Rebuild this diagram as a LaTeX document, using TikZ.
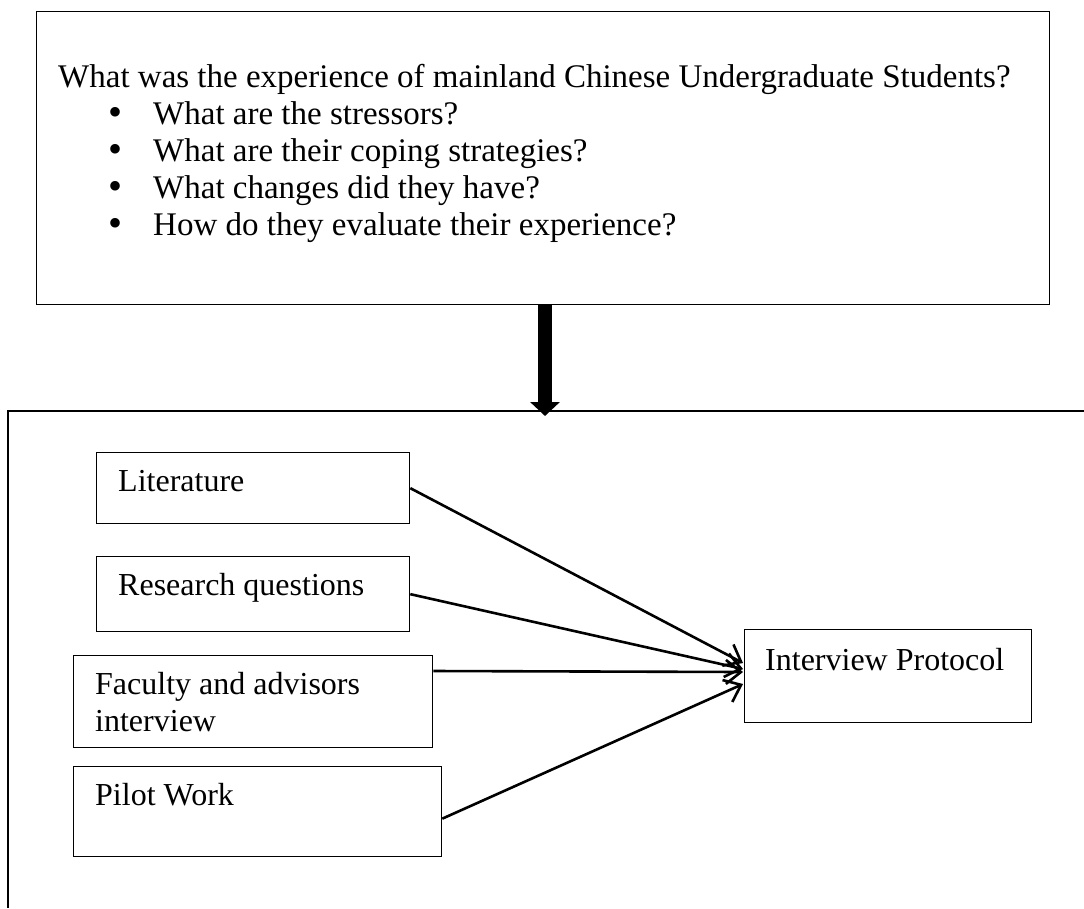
\documentclass[tikz,border=0pt]{standalone}
\usepackage{fontspec}
\setmainfont{Liberation Serif}
\usetikzlibrary{arrows.meta}
\begin{document}
\begin{tikzpicture}[x=1pt,y=-1pt,
  box/.style={draw, line width=1.3pt, inner sep=0pt, anchor=north west},
  txt/.style={anchor=base west, inner sep=0pt, font=\fontsize{32}{37}\selectfont},
  ttxt/.style={txt, font=\fontsize{33}{37}\selectfont},
  bul/.style={txt, font=\fontsize{40}{37}\selectfont},
  arr/.style={line width=2.6pt, -{Straight Barb[length=15pt,width=24pt,line width=2.6pt]}},
  bigarr/.style={line width=14pt, -{Triangle[length=14pt,width=29pt]}},
  ]
\useasboundingbox (0,0) rectangle (1084,908);
% top box
\node[box, minimum width=1013pt, minimum height=293pt] (q) at (36,11) {};
\node[ttxt] (q0) at (58,87) {What was the experience of mainland Chinese Undergraduate Students?};
\node[bul] (b1) at (108,125) {•};
\node[ttxt] (q1) at (153,124) {What are the stressors?};
\node[bul] (b2) at (108,162) {•};
\node[ttxt] (q2) at (153,161) {What are their coping strategies?};
\node[bul] (b3) at (108,199) {•};
\node[ttxt] (q3) at (153,198) {What changes did they have?};
\node[bul] (b4) at (108,236) {•};
\node[ttxt] (q4) at (153,235) {How do they evaluate their experience?};
% big open frame
\coordinate (fr1) at (1084,411);
\coordinate (fr2) at (8,411);
\coordinate (fr3) at (8,908);
\draw[line width=1.3pt] (fr1) -- (fr2) -- (fr3);
% thick arrow
\coordinate (tip) at (545,416);
\draw[bigarr] (q.south -| tip) -- (tip);
% left boxes
\node[box, minimum width=313pt, minimum height=71pt] (lit) at (96,452) {};
\node[txt] (litt) at (118,491) {Literature};
\node[box, minimum width=313pt, minimum height=75pt] (res) at (96,556) {};
\node[txt] (rest) at (118,595) {Research questions};
\node[box, minimum width=359pt, minimum height=92pt] (fac) at (73,655) {};
\node[txt] (fact) at (95,694) {Faculty and advisors};
\node[txt] (fact2) at (95,731) {interview};
\node[box, minimum width=368pt, minimum height=90pt] (pil) at (73,766) {};
\node[txt] (pilt) at (95,805) {Pilot Work};
% interview protocol
\node[box, minimum width=287pt, minimum height=93pt] (ip) at (744,629) {};
\node[txt] (ipt) at (765,670) {Interview Protocol};
% connectors
\coordinate (e1) at (743,663);
\coordinate (e2) at (743,669);
\coordinate (e3) at (743,672);
\coordinate (e4) at (743,684);
\draw[arr] (lit.east) -- (e1);
\draw[arr] (res.east) -- (e2);
\draw[arr] ([yshift=-16pt]fac.north east) -- (e3);
\draw[arr] ([yshift=-7pt]pil.east) -- (e4);
\end{tikzpicture}
\end{document}
